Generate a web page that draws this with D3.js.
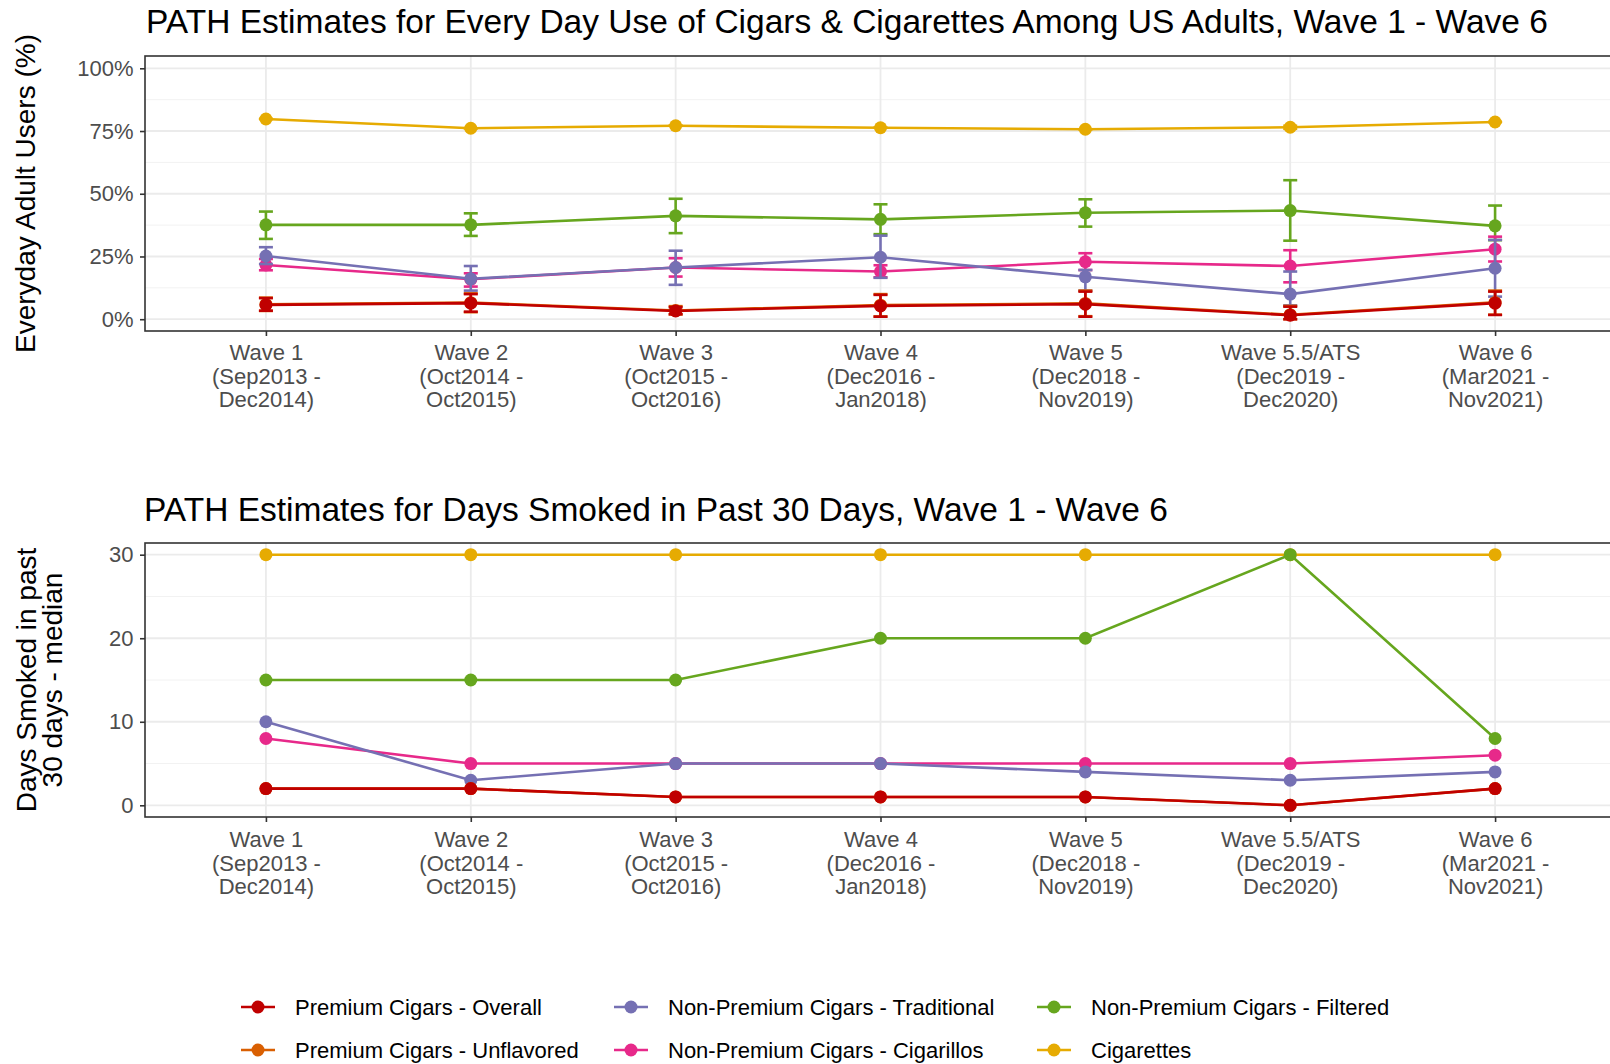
<!DOCTYPE html>
<html>
<head>
<meta charset="utf-8">
<script src="https://cdn.jsdelivr.net/npm/d3@7"></script>
<style>
  html, body { margin: 0; padding: 0; background: #fff; }
  svg { display: block; }
  text { font-family: "Liberation Sans", Arial, sans-serif; }
</style>
</head>
<body>
<svg id="chart" width="1610" height="1064"></svg>
<script>
// ---- data ----------------------------------------------------------------
const waveLabels = [
  ["Wave 1", "(Sep2013 -", "Dec2014)"],
  ["Wave 2", "(Oct2014 -", "Oct2015)"],
  ["Wave 3", "(Oct2015 -", "Oct2016)"],
  ["Wave 4", "(Dec2016 -", "Jan2018)"],
  ["Wave 5", "(Dec2018 -", "Nov2019)"],
  ["Wave 5.5/ATS", "(Dec2019 -", "Dec2020)"],
  ["Wave 6", "(Mar2021 -", "Nov2021)"]
];
const waves = waveLabels.map(d => d[0]);

const seriesNames = [
  "Premium Cigars - Overall",
  "Premium Cigars - Unflavored",
  "Non-Premium Cigars - Traditional",
  "Non-Premium Cigars - Cigarillos",
  "Non-Premium Cigars - Filtered",
  "Cigarettes"
];
const seriesColors = ["#C00000", "#D95F02", "#7570B3", "#E7298A", "#66A61E", "#E6AB02"];

// Everyday use, percent of adult users (estimate, lower CI, upper CI)
const everydayEst = [
  [5.7, 6.4, 3.3, 5.3, 6.0, 1.6, 6.4],
  [5.9, 6.6, 3.5, 5.6, 6.3, 1.8, 6.7],
  [25.2, 16.1, 20.6, 24.7, 16.9, 10.0, 20.3],
  [21.6, 15.9, 20.6, 19.0, 22.9, 21.2, 27.9],
  [37.6, 37.6, 41.2, 39.8, 42.4, 43.3, 37.2],
  [79.8, 76.1, 77.1, 76.3, 75.7, 76.5, 78.6]
];
const everydayLow = [
  [3.4, 3.0, 2.0, 1.0, 1.0, 0.0, 1.7],
  [3.3, 2.8, 1.9, 1.1, 1.2, 0.0, 1.8],
  [22.0, 11.4, 13.7, 16.5, 11.4, 5.5, 9.0],
  [19.5, 13.0, 17.0, 16.7, 19.6, 14.7, 23.0],
  [32.0, 33.2, 34.3, 33.9, 36.9, 31.3, 31.5],
  [79.8, 76.1, 77.1, 76.3, 75.7, 75.9, 78.6]
];
const everydayHigh = [
  [8.4, 10.0, 4.8, 9.7, 11.0, 5.0, 11.0],
  [8.6, 10.3, 5.2, 10.0, 11.4, 5.3, 11.4],
  [28.7, 21.2, 27.3, 33.3, 19.6, 19.0, 31.6],
  [24.0, 18.3, 24.3, 21.5, 26.3, 27.5, 32.9],
  [42.9, 42.2, 48.0, 45.8, 47.8, 55.4, 45.3],
  [79.8, 76.1, 77.1, 76.3, 75.7, 77.1, 78.6]
];

// Median days smoked in past 30 days
const daysMedian = [
  [2, 2, 1, 1, 1, 0, 2],
  [2, 2, 1, 1, 1, 0, 2],
  [10, 3, 5, 5, 4, 3, 4],
  [8, 5, 5, 5, 5, 5, 6],
  [15, 15, 15, 20, 20, 30, 8],
  [30, 30, 30, 30, 30, 30, 30]
];

const pctTicks = [0, 25, 50, 75, 100];
const pctMinor = [12.5, 37.5, 62.5, 87.5];
const dayTicks = [0, 10, 20, 30];
const dayMinor = [5, 15, 25];

// ---- layout --------------------------------------------------------------
const svg = d3.select("#chart");
const panelLeft = 145, panelRight = 1620;
const TICK_FONT = 22;
const GREY_TEXT = "#4D4D4D";

const x = d3.scalePoint().domain(waves).range([143, 1618]).padding(0.6);

function drawPanel(opt) {
  const g = svg.append("g");
  const y = d3.scaleLinear().domain(opt.domain).range([opt.bottom, opt.top]);

  // title
  g.append("text")
    .attr("x", opt.titleX).attr("y", opt.titleY)
    .attr("font-size", 33.5).attr("fill", "#000")
    .text(opt.title);

  // grid
  const grid = g.append("g");
  grid.selectAll("line.minor").data(opt.minor).join("line")
    .attr("x1", panelLeft).attr("x2", panelRight)
    .attr("y1", d => y(d)).attr("y2", d => y(d))
    .attr("stroke", "#F2F2F2").attr("stroke-width", 1);
  grid.selectAll("line.major").data(opt.ticks).join("line")
    .attr("x1", panelLeft).attr("x2", panelRight)
    .attr("y1", d => y(d)).attr("y2", d => y(d))
    .attr("stroke", "#EBEBEB").attr("stroke-width", 1.8);
  grid.selectAll("line.vmajor").data(waves).join("line")
    .attr("x1", d => x(d)).attr("x2", d => x(d))
    .attr("y1", opt.top).attr("y2", opt.bottom)
    .attr("stroke", "#EBEBEB").attr("stroke-width", 1.8);

  // series, drawn last-to-first so the first series sits on top
  const line = d3.line().x((d, i) => x(waves[i])).y(d => y(d));
  for (let s = seriesNames.length - 1; s >= 0; s--) {
    const col = seriesColors[s];
    const vals = opt.values[s];
    const sg = g.append("g");
    sg.append("path").datum(vals)
      .attr("d", line).attr("fill", "none")
      .attr("stroke", col).attr("stroke-width", 2.6);
    if (opt.low) {
      const lows = opt.low[s], highs = opt.high[s];
      const eb = sg.selectAll("g.eb").data(vals.map((v, i) => i)).join("g");
      eb.append("line")
        .attr("x1", i => x(waves[i])).attr("x2", i => x(waves[i]))
        .attr("y1", i => y(lows[i])).attr("y2", i => y(highs[i]))
        .attr("stroke", col).attr("stroke-width", 2.6);
      eb.append("line")
        .attr("x1", i => x(waves[i]) - 7).attr("x2", i => x(waves[i]) + 7)
        .attr("y1", i => y(lows[i])).attr("y2", i => y(lows[i]))
        .attr("stroke", col).attr("stroke-width", 2.6);
      eb.append("line")
        .attr("x1", i => x(waves[i]) - 7).attr("x2", i => x(waves[i]) + 7)
        .attr("y1", i => y(highs[i])).attr("y2", i => y(highs[i]))
        .attr("stroke", col).attr("stroke-width", 2.6);
    }
    sg.selectAll("circle").data(vals).join("circle")
      .attr("cx", (d, i) => x(waves[i])).attr("cy", d => y(d))
      .attr("r", 6.5).attr("fill", col);
  }

  // panel border
  g.append("rect")
    .attr("x", panelLeft).attr("y", opt.top)
    .attr("width", panelRight - panelLeft).attr("height", opt.bottom - opt.top)
    .attr("fill", "none").attr("stroke", "#333333").attr("stroke-width", 1.6);

  // y axis
  const yAxis = d3.axisLeft(y).tickValues(opt.ticks).tickSize(5).tickPadding(6.5)
    .tickFormat(opt.fmt);
  const ya = g.append("g").attr("transform", `translate(${panelLeft},0)`).call(yAxis);
  ya.select(".domain").remove();
  ya.selectAll(".tick line").attr("stroke", "#333333").attr("stroke-width", 1.6);
  ya.selectAll(".tick text").attr("font-size", TICK_FONT).attr("fill", GREY_TEXT)
    .attr("font-family", "Liberation Sans, Arial, sans-serif");

  // x axis
  const xAxis = d3.axisBottom(x).tickSize(5).tickFormat("");
  const xa = g.append("g").attr("transform", `translate(0,${opt.bottom})`).call(xAxis);
  xa.select(".domain").remove();
  xa.selectAll(".tick line").attr("stroke", "#333333").attr("stroke-width", 1.6);
  xa.selectAll(".tick").each(function (d, i) {
    const t = d3.select(this).append("text")
      .attr("text-anchor", "middle").attr("fill", GREY_TEXT)
      .attr("font-size", TICK_FONT)
      .attr("font-family", "Liberation Sans, Arial, sans-serif");
    waveLabels[i].forEach((ln, k) => {
      t.append("tspan").attr("x", 0).attr("y", opt.xLabelBase + k * 23.6).text(ln);
    });
  });

  // y axis title
  const yt = g.append("text")
    .attr("transform", `translate(0,${(opt.top + opt.bottom) / 2}) rotate(-90)`)
    .attr("text-anchor", "middle").attr("font-size", 28).attr("fill", "#000");
  opt.yTitle.forEach((ln, k) => {
    yt.append("tspan").attr("x", 0).attr("y", opt.yTitleX[k]).text(ln);
  });
}

drawPanel({
  title: "PATH Estimates for Every Day Use of Cigars & Cigarettes Among US Adults, Wave 1 - Wave 6",
  titleX: 146, titleY: 33,
  top: 56, bottom: 331,
  domain: [-4.7, 104.9],
  ticks: pctTicks, minor: pctMinor,
  fmt: d => d + "%",
  values: everydayEst, low: everydayLow, high: everydayHigh,
  xLabelBase: 29,
  yTitle: ["Everyday Adult Users (%)"], yTitleX: [35]
});

drawPanel({
  title: "PATH Estimates for Days Smoked in Past 30 Days, Wave 1 - Wave 6",
  titleX: 144, titleY: 521,
  top: 543, bottom: 817,
  domain: [-1.4, 31.4],
  ticks: dayTicks, minor: dayMinor,
  fmt: d => d,
  values: daysMedian,
  xLabelBase: 30,
  yTitle: ["Days Smoked in past", "30 days - median"], yTitleX: [36, 62]
});

// ---- legend --------------------------------------------------------------
const legendCols = [241, 614, 1037];
const legendRows = [1007, 1050];
const legend = svg.append("g");
seriesNames.forEach((name, i) => {
  const cx = legendCols[Math.floor(i / 2)], cy = legendRows[i % 2];
  const item = legend.append("g").attr("transform", `translate(${cx},${cy})`);
  item.append("line").attr("x1", 0).attr("x2", 34).attr("y1", 0).attr("y2", 0)
    .attr("stroke", seriesColors[i]).attr("stroke-width", 2.6);
  item.append("circle").attr("cx", 17).attr("cy", 0).attr("r", 6.5).attr("fill", seriesColors[i]);
  item.append("text").attr("x", 54).attr("y", 0).attr("dy", "0.36em")
    .attr("font-size", 22).attr("fill", "#000").text(name);
});
</script>
</body>
</html>
